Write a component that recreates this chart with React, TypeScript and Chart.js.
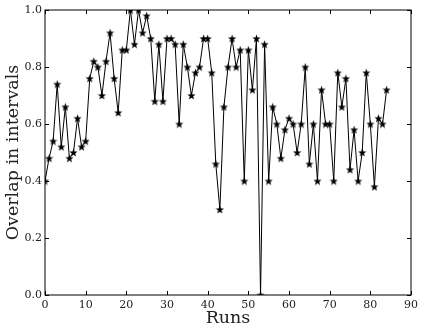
import React, { useEffect, useRef } from "react";
import { Chart, registerables } from "chart.js";

Chart.register(...registerables);

const runs: number[] = Array.from({ length: 85 }, (_, i) => i);
const overlap: number[] = [
  0.40, 0.48, 0.54, 0.74, 0.52, 0.66, 0.48, 0.50, 0.62, 0.52,
  0.54, 0.76, 0.82, 0.80, 0.70, 0.82, 0.92, 0.76, 0.64, 0.86,
  0.86, 1.00, 0.88, 1.00, 0.92, 0.98, 0.90, 0.68, 0.88, 0.68,
  0.90, 0.90, 0.88, 0.60, 0.88, 0.80, 0.70, 0.78, 0.80, 0.90,
  0.90, 0.78, 0.46, 0.30, 0.66, 0.80, 0.90, 0.80, 0.86, 0.40,
  0.86, 0.72, 0.90, 0.00, 0.88, 0.40, 0.66, 0.60, 0.48, 0.58,
  0.62, 0.60, 0.50, 0.60, 0.80, 0.46, 0.60, 0.40, 0.72, 0.60,
  0.60, 0.40, 0.78, 0.66, 0.76, 0.44, 0.58, 0.40, 0.50, 0.78,
  0.60, 0.38, 0.62, 0.60, 0.72,
];
const xTicks: number[] = [0, 10, 20, 30, 40, 50, 60, 70, 80, 90];
const yTicks: number[] = [0, 0.2, 0.4, 0.6, 0.8, 1.0];

const SERIF = "'DejaVu Serif', 'Liberation Serif', serif";

function makeStar(): HTMLCanvasElement {
  const c = document.createElement("canvas");
  const s = 9;
  c.width = s;
  c.height = s;
  const ctx = c.getContext("2d")!;
  const cx = s / 2, cy = s / 2 + 0.4;
  const R = 4.3, r = 1.8;
  ctx.beginPath();
  for (let i = 0; i < 10; i++) {
    const rad = i % 2 === 0 ? R : r;
    const a = -Math.PI / 2 + (i * Math.PI) / 5;
    const px = cx + rad * Math.cos(a);
    const py = cy + rad * Math.sin(a);
    if (i === 0) ctx.moveTo(px, py);
    else ctx.lineTo(px, py);
  }
  ctx.closePath();
  ctx.fillStyle = "#000";
  ctx.fill();
  return c;
}

const frameAndTicks = {
  id: "frameAndTicks",
  afterDraw(chart: any) {
    const { ctx, chartArea } = chart;
    const { left, right, top, bottom } = chartArea;
    const xs = chart.scales.x;
    const ys = chart.scales.y;
    ctx.save();
    ctx.strokeStyle = "#000";
    ctx.lineWidth = 1;
    ctx.strokeRect(left, top, right - left, bottom - top);
    const L = 4;
    ctx.beginPath();
    xTicks.forEach((v) => {
      const px = Math.round(xs.getPixelForValue(v)) + 0.5;
      ctx.moveTo(px, bottom);
      ctx.lineTo(px, bottom - L);
      ctx.moveTo(px, top);
      ctx.lineTo(px, top + L);
    });
    yTicks.forEach((v) => {
      const py = Math.round(ys.getPixelForValue(v)) + 0.5;
      ctx.moveTo(left, py);
      ctx.lineTo(left + L, py);
      ctx.moveTo(right, py);
      ctx.lineTo(right - L, py);
    });
    ctx.stroke();
    ctx.restore();
  },
};

export default function App() {
  const ref = useRef<HTMLCanvasElement | null>(null);
  useEffect(() => {
    document.body.style.margin = "0";
    const star = makeStar();
    const chart = new Chart(ref.current!, {
      type: "line",
      data: {
        datasets: [
          {
            data: runs.map((r, i) => ({ x: r, y: overlap[i] })),
            borderColor: "#000",
            borderWidth: 1,
            pointStyle: star as any,
            pointRadius: 4,
            backgroundColor: "#000",
            tension: 0,
          },
        ],
      },
      options: {
        animation: false,
        responsive: false,
        layout: { padding: { top: 10, right: 8, left: 0, bottom: 0 } },
        plugins: { legend: { display: false }, tooltip: { enabled: false } },
        scales: {
          x: {
            type: "linear",
            min: 0,
            max: 90,
            afterBuildTicks: (s: any) => {
              s.ticks = xTicks.map((v) => ({ value: v }));
            },
            afterFit: (s: any) => {
              s.height = 36;
            },
            grid: { display: false, drawTicks: false },
            border: { display: false },
            ticks: {
              color: "#222",
              padding: 4,
              maxRotation: 0,
              font: { family: SERIF, size: 11 },
              callback: (v: any) => String(v),
            },
            title: {
              display: true,
              text: "Runs",
              color: "#222",
              font: { family: SERIF, size: 17.5 },
              padding: { top: 0, bottom: 2.5 },
            },
          },
          y: {
            type: "linear",
            min: 0,
            max: 1,
            afterBuildTicks: (s: any) => {
              s.ticks = yTicks.map((v) => ({ value: v }));
            },
            afterFit: (s: any) => {
              s.width = 45;
            },
            grid: { display: false, drawTicks: false },
            border: { display: false },
            ticks: {
              color: "#222",
              padding: 3,
              font: { family: SERIF, size: 11 },
              callback: (v: any) => Number(v).toFixed(1),
            },
            title: {
              display: true,
              text: "Overlap in intervals",
              color: "#222",
              font: { family: SERIF, size: 17.5 },
              padding: { top: 2.5, bottom: 0 },
            },
          },
        },
      },
      plugins: [frameAndTicks],
    });
    return () => chart.destroy();
  }, []);
  return <canvas ref={ref} width={422} height={331} style={{ display: "block" }} />;
}
